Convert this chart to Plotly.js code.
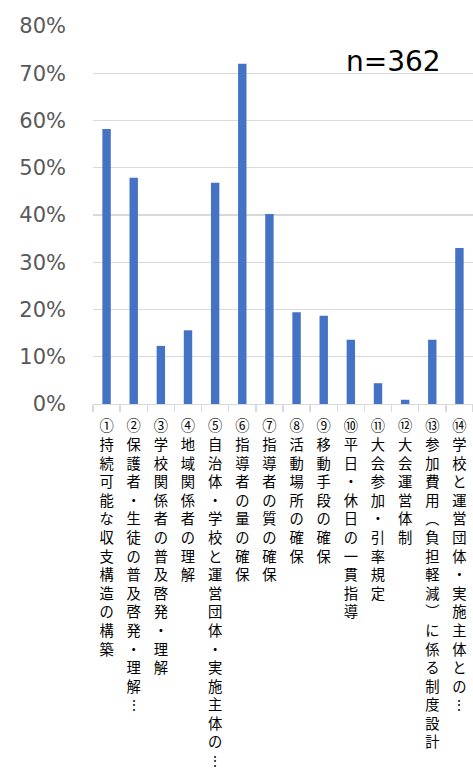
<!DOCTYPE html>
<html>
<head>
<meta charset="utf-8">
<script src="https://cdn.plot.ly/plotly-3.0.1.min.js"></script>
<style>html,body{margin:0;padding:0;background:#fff;}#chart{width:473px;height:768px;}</style>
</head>
<body>
<div id="chart"></div>
<script>
const categories = [
  "①持続可能な収支構造の構築",
  "②保護者・生徒の普及啓発・理解…",
  "③学校関係者の普及啓発・理解",
  "④地域関係者の理解",
  "⑤自治体・学校と運営団体・実施主体の…",
  "⑥指導者の量の確保",
  "⑦指導者の質の確保",
  "⑧活動場所の確保",
  "⑨移動手段の確保",
  "⑩平日・休日の一貫指導",
  "⑪大会参加・引率規定",
  "⑫大会運営体制",
  "⑬参加費用（負担軽減）に係る制度設計",
  "⑭学校と運営団体・実施主体との…"
];
const values = [0.582, 0.479, 0.123, 0.156, 0.468, 0.720, 0.402, 0.194, 0.187, 0.136, 0.044, 0.009, 0.136, 0.330];
const sampleNote = "n=362";

const vmap = {"（": "\uFE35", "）": "\uFE36", "…": "\u22EE"};
const vertical = s => Array.from(s).map(c => vmap[c] || c).join("<br>");

const trace = {
  type: "bar",
  x: categories.map(vertical),
  y: values,
  marker: {color: "#4472C4"},
  hoverinfo: "x+y"
};

const layout = {
  width: 473, height: 768,
  margin: {l: 93, r: 0, t: 26, b: 364},
  paper_bgcolor: "#fff", plot_bgcolor: "#fff",
  bargap: 0.69,
  showlegend: false,
  xaxis: {
    type: "category",
    tickangle: 0,
    tickfont: {family: "Noto Sans CJK JP", size: 14.3, color: "#000"},
    showline: true, linecolor: "#d9d9d9", linewidth: 1.3,
    ticks: "outside", tickson: "boundaries", ticklen: 7, tickcolor: "#d9d9d9", tickwidth: 1.3,
    showgrid: false, automargin: false, fixedrange: true,
    ticklabelstandoff: 9
  },
  yaxis: {
    range: [0, 0.8], dtick: 0.1, tickformat: ".0%",
    tickfont: {family: "DejaVu Sans", size: 21, color: "#595959"},
    gridcolor: "#d9d9d9", gridwidth: 1.3,
    zeroline: false, showline: false, automargin: false, fixedrange: true,
    ticklabelstandoff: 26
  },
  shapes: [{
    type: "rect", layer: "between", xref: "paper", yref: "y",
    x0: 0.59, x1: 1, y0: 0.66, y1: 0.76,
    fillcolor: "#fff", line: {width: 0}
  }],
  annotations: [{
    text: sampleNote, xref: "paper", yref: "y", x: 0.79, y: 0.725,
    showarrow: false, xanchor: "center", yanchor: "middle",
    font: {family: "DejaVu Sans", size: 28, color: "#000"}
  }]
};

Plotly.newPlot("chart", [trace], layout, {displayModeBar: false, staticPlot: true});
</script>
</body>
</html>
